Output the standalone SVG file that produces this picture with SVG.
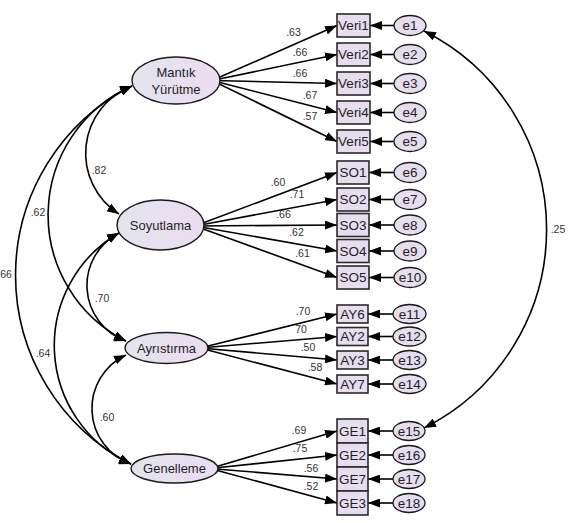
<svg xmlns="http://www.w3.org/2000/svg" width="572" height="523" viewBox="0 0 572 523">
<style>
text{font-family:"Liberation Sans",Arial,sans-serif;fill:#1e1e24}
.lat{fill:url(#lg);stroke:#1a1a1a;stroke-width:1.4}
.box{fill:#e6ddef;stroke:#2a2a2a;stroke-width:1.6}
.err{fill:#e6ddef;stroke:#1a1a1a;stroke-width:1.3}
.nt{font-size:13px;text-anchor:middle}
.bt{font-size:13.5px;text-anchor:middle}
.lb{font-size:10.5px;text-anchor:middle;fill:#333}
.c{fill:none;stroke:#000;stroke-width:1.6}
.one{marker-end:url(#ah)}
.two{marker-start:url(#ah);marker-end:url(#ah)}
</style>
<defs>
<linearGradient id="lg" x1="0" y1="0" x2="1" y2="0">
<stop offset="0" stop-color="#e2e4ed"/>
<stop offset="1" stop-color="#eddcf1"/>
</linearGradient>
<marker id="ah" viewBox="0 0 12 9" refX="12" refY="4.5" markerWidth="12" markerHeight="9" orient="auto-start-reverse" markerUnits="userSpaceOnUse">
<path d="M0,0 L12,4.5 L0,9 z" fill="#000"/>
</marker>
</defs>
<rect width="572" height="523" fill="#fff"/>
<g id="connectors">
<!-- loadings -->
<line class="c one" x1="212" y1="80.5" x2="337" y2="25.5"/>
<line class="c one" x1="212" y1="80.5" x2="337" y2="54.5"/>
<line class="c one" x1="212" y1="80.5" x2="337" y2="83.5"/>
<line class="c one" x1="212" y1="80.5" x2="337" y2="112.5"/>
<line class="c one" x1="212" y1="80.5" x2="337" y2="141.5"/>
<line class="c one" x1="195" y1="226" x2="337" y2="172.5"/>
<line class="c one" x1="195" y1="226" x2="337" y2="199.5"/>
<line class="c one" x1="195" y1="226" x2="337" y2="225"/>
<line class="c one" x1="195" y1="226" x2="337" y2="251"/>
<line class="c one" x1="195" y1="226" x2="337" y2="277.5"/>
<line class="c one" x1="200" y1="348" x2="337" y2="314"/>
<line class="c one" x1="200" y1="348" x2="337" y2="336.5"/>
<line class="c one" x1="200" y1="348" x2="337" y2="360"/>
<line class="c one" x1="200" y1="348" x2="337" y2="384"/>
<line class="c one" x1="210" y1="468.5" x2="337" y2="431"/>
<line class="c one" x1="210" y1="468.5" x2="337" y2="455"/>
<line class="c one" x1="210" y1="468.5" x2="337" y2="479"/>
<line class="c one" x1="210" y1="468.5" x2="337" y2="503"/>
<!-- errors -->
<line class="c one" x1="394" y1="25.5" x2="370" y2="25.5"/>
<line class="c one" x1="394" y1="54.5" x2="370" y2="54.5"/>
<line class="c one" x1="394" y1="83.5" x2="370" y2="83.5"/>
<line class="c one" x1="394" y1="112.5" x2="370" y2="112.5"/>
<line class="c one" x1="394" y1="141.5" x2="370" y2="141.5"/>
<line class="c one" x1="394" y1="172.5" x2="369" y2="172.5"/>
<line class="c one" x1="394" y1="199.5" x2="369" y2="199.5"/>
<line class="c one" x1="394" y1="225" x2="369" y2="225"/>
<line class="c one" x1="394" y1="251" x2="369" y2="251"/>
<line class="c one" x1="394" y1="277.5" x2="369" y2="277.5"/>
<line class="c one" x1="393" y1="314" x2="368" y2="314"/>
<line class="c one" x1="393" y1="336.5" x2="368" y2="336.5"/>
<line class="c one" x1="393" y1="360" x2="368" y2="360"/>
<line class="c one" x1="393" y1="384" x2="368" y2="384"/>
<line class="c one" x1="393" y1="431" x2="368" y2="431"/>
<line class="c one" x1="393" y1="455" x2="368" y2="455"/>
<line class="c one" x1="393" y1="479" x2="368" y2="479"/>
<line class="c one" x1="393" y1="503" x2="368" y2="503"/>
<!-- covariances -->
<path class="c two" d="M132,86 A72,72 0 0 0 119,214"/>
<path class="c two" d="M132,86 A141,141 0 0 0 126,341"/>
<path class="c two" d="M132,86 A212,212 0 0 0 131,464"/>
<path class="c two" d="M119,233 A59,59 0 0 0 126,341"/>
<path class="c two" d="M119,233 A130,130 0 0 0 131,464"/>
<path class="c two" d="M126,355 A59,59 0 0 0 131,464"/>
<path class="c two" d="M424,31 A222,222 0 0 1 424,428"/>
<!-- labels -->
<text class="lb" x="293.5" y="36">.63</text>
<text class="lb" x="300" y="56">.66</text>
<text class="lb" x="300" y="77">.66</text>
<text class="lb" x="310" y="99">.67</text>
<text class="lb" x="310" y="120">.57</text>
<text class="lb" x="278" y="186">.60</text>
<text class="lb" x="297" y="198">.71</text>
<text class="lb" x="283.5" y="218">.66</text>
<text class="lb" x="296.5" y="236">.62</text>
<text class="lb" x="302.5" y="257">.61</text>
<text class="lb" x="303" y="315">.70</text>
<text class="lb" x="301" y="333">70</text>
<text class="lb" x="308" y="351">.50</text>
<text class="lb" x="315" y="371">.58</text>
<text class="lb" x="299" y="434">.69</text>
<text class="lb" x="300" y="452">.75</text>
<text class="lb" x="311" y="472">.56</text>
<text class="lb" x="311" y="490">.52</text>
<text class="lb" x="99" y="174">.82</text>
<text class="lb" x="38" y="216">.62</text>
<text class="lb" x="6" y="278">66</text>
<text class="lb" x="102" y="302">.70</text>
<text class="lb" x="43" y="357">.64</text>
<text class="lb" x="107" y="421">.60</text>
<text class="lb" x="558" y="233">.25</text>
</g>
<g id="MantikYurutme"><ellipse class="lat" cx="176" cy="80.5" rx="44" ry="23.5"/><text class="nt" x="176" y="76.5">Mantık</text><text class="nt" x="176" y="94">Yürütme</text></g>
<g id="Soyutlama"><ellipse class="lat" cx="160.5" cy="225" rx="43.5" ry="25"/><text class="nt" x="160.5" y="229.5">Soyutlama</text></g>
<g id="Ayristirma"><ellipse class="lat" cx="166.5" cy="348" rx="41.5" ry="15.5"/><text class="nt" x="166.5" y="352.5">Ayrıstırma</text></g>
<g id="Genelleme"><ellipse class="lat" cx="174.5" cy="468.5" rx="43.5" ry="14.5"/><text class="nt" x="174.5" y="473">Genelleme</text></g>
<g id="Veri1"><rect class="box" x="337" y="14" width="33" height="23"/><text class="bt" x="353.5" y="30.3">Veri1</text></g>
<g id="Veri2"><rect class="box" x="337" y="43" width="33" height="23"/><text class="bt" x="353.5" y="59.3">Veri2</text></g>
<g id="Veri3"><rect class="box" x="337" y="72" width="33" height="23"/><text class="bt" x="353.5" y="88.3">Veri3</text></g>
<g id="Veri4"><rect class="box" x="337" y="101" width="33" height="23"/><text class="bt" x="353.5" y="117.3">Veri4</text></g>
<g id="Veri5"><rect class="box" x="337" y="130" width="33" height="23"/><text class="bt" x="353.5" y="146.3">Veri5</text></g>
<g id="SO1"><rect class="box" x="337" y="161" width="32" height="23"/><text class="bt" x="353" y="177.3">SO1</text></g>
<g id="SO2"><rect class="box" x="337" y="188" width="32" height="23"/><text class="bt" x="353" y="204.3">SO2</text></g>
<g id="SO3"><rect class="box" x="337" y="213.5" width="32" height="23"/><text class="bt" x="353" y="229.8">SO3</text></g>
<g id="SO4"><rect class="box" x="337" y="239.5" width="32" height="23"/><text class="bt" x="353" y="255.8">SO4</text></g>
<g id="SO5"><rect class="box" x="337" y="266" width="32" height="23"/><text class="bt" x="353" y="282.3">SO5</text></g>
<g id="AY6"><rect class="box" x="337" y="305" width="31" height="18"/><text class="bt" x="352.5" y="318.8">AY6</text></g>
<g id="AY2"><rect class="box" x="337" y="327.5" width="31" height="18"/><text class="bt" x="352.5" y="341.3">AY2</text></g>
<g id="AY3"><rect class="box" x="337" y="351" width="31" height="18"/><text class="bt" x="352.5" y="364.8">AY3</text></g>
<g id="AY7"><rect class="box" x="337" y="375" width="31" height="18"/><text class="bt" x="352.5" y="388.8">AY7</text></g>
<g id="GE1"><rect class="box" x="337" y="419" width="31" height="24"/><text class="bt" x="352.5" y="435.8">GE1</text></g>
<g id="GE2"><rect class="box" x="337" y="443" width="31" height="24"/><text class="bt" x="352.5" y="459.8">GE2</text></g>
<g id="GE7"><rect class="box" x="337" y="467" width="31" height="24"/><text class="bt" x="352.5" y="483.8">GE7</text></g>
<g id="GE3"><rect class="box" x="337" y="491" width="31" height="24"/><text class="bt" x="352.5" y="507.8">GE3</text></g>
<g id="e1"><ellipse class="err" cx="410" cy="25.5" rx="16" ry="10"/><text class="bt" x="410" y="30.3">e1</text></g>
<g id="e2"><ellipse class="err" cx="410" cy="54.5" rx="16" ry="10"/><text class="bt" x="410" y="59.3">e2</text></g>
<g id="e3"><ellipse class="err" cx="410" cy="83.5" rx="16" ry="10"/><text class="bt" x="410" y="88.3">e3</text></g>
<g id="e4"><ellipse class="err" cx="410" cy="112.5" rx="16" ry="10"/><text class="bt" x="410" y="117.3">e4</text></g>
<g id="e5"><ellipse class="err" cx="410" cy="141.5" rx="16" ry="10"/><text class="bt" x="410" y="146.3">e5</text></g>
<g id="e6"><ellipse class="err" cx="410" cy="172.5" rx="16" ry="10"/><text class="bt" x="410" y="177.3">e6</text></g>
<g id="e7"><ellipse class="err" cx="410" cy="199.5" rx="16" ry="10"/><text class="bt" x="410" y="204.3">e7</text></g>
<g id="e8"><ellipse class="err" cx="410" cy="225" rx="16" ry="10"/><text class="bt" x="410" y="229.8">e8</text></g>
<g id="e9"><ellipse class="err" cx="410" cy="251" rx="16" ry="10"/><text class="bt" x="410" y="255.8">e9</text></g>
<g id="e10"><ellipse class="err" cx="410" cy="277.5" rx="16" ry="10"/><text class="bt" x="410" y="282.3">e10</text></g>
<g id="e11"><ellipse class="err" cx="409.5" cy="314" rx="16.5" ry="9.5"/><text class="bt" x="409.5" y="318.8">e11</text></g>
<g id="e12"><ellipse class="err" cx="409.5" cy="336.5" rx="16.5" ry="9.5"/><text class="bt" x="409.5" y="341.3">e12</text></g>
<g id="e13"><ellipse class="err" cx="409.5" cy="360" rx="16.5" ry="9.5"/><text class="bt" x="409.5" y="364.8">e13</text></g>
<g id="e14"><ellipse class="err" cx="409.5" cy="384" rx="16.5" ry="9.5"/><text class="bt" x="409.5" y="388.8">e14</text></g>
<g id="e15"><ellipse class="err" cx="409" cy="431" rx="16" ry="9.5"/><text class="bt" x="409" y="435.8">e15</text></g>
<g id="e16"><ellipse class="err" cx="409" cy="455" rx="16" ry="9.5"/><text class="bt" x="409" y="459.8">e16</text></g>
<g id="e17"><ellipse class="err" cx="409" cy="479" rx="16" ry="9.5"/><text class="bt" x="409" y="483.8">e17</text></g>
<g id="e18"><ellipse class="err" cx="409" cy="503" rx="16" ry="9.5"/><text class="bt" x="409" y="507.8">e18</text></g>
</svg>
